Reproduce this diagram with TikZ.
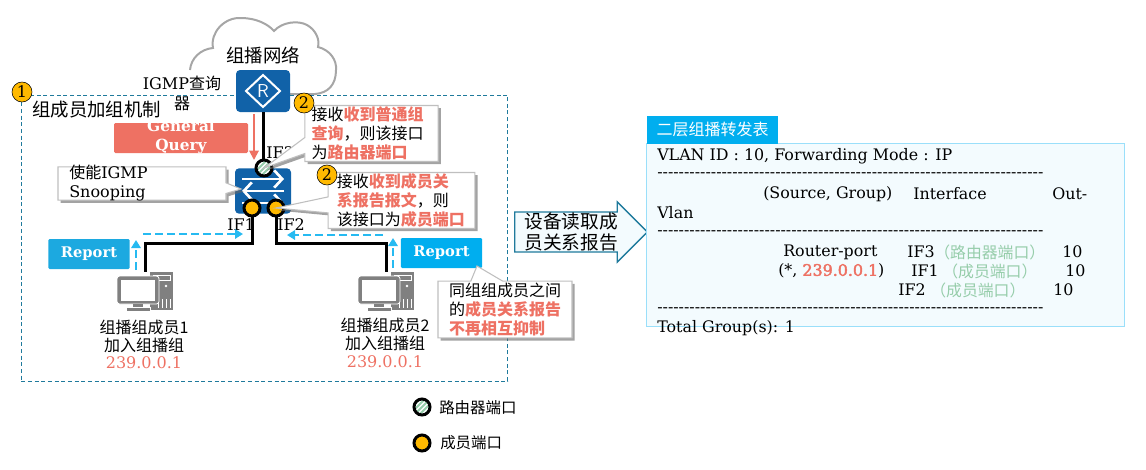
\documentclass[tikz,border=0pt]{standalone}
\usepackage{fontspec}
\setmainfont{DejaVu Serif}
\newfontfamily\cjk{Noto Sans CJK SC}
\newfontfamily\rulefont{DejaVu Serif}
\newfontfamily\fakeb[FakeBold=2.5]{DejaVu Serif}
\usepackage{xcolor}
\usetikzlibrary{arrows.meta,shapes.callouts,shapes.arrows,shadows}
\definecolor{bluehua}{RGB}{17,98,168}
\definecolor{hotred}{RGB}{238,113,99}
\definecolor{goldport}{RGB}{255,185,0}
\definecolor{skyrep}{RGB}{0,174,239}
\definecolor{skyrepb}{RGB}{28,169,224}
\definecolor{framet}{RGB}{31,122,156}
\definecolor{paleg}{RGB}{150,205,170}
\definecolor{panelbg}{RGB}{243,251,254}
\definecolor{panelln}{RGB}{154,223,250}
\newcommand{\zh}[1]{{\cjk #1}}
\newcommand{\hot}[1]{\textcolor{hotred}{\cjk\bfseries #1}}
\newcommand{\pale}[1]{\textcolor{paleg}{\cjk #1}}
\newcommand{\dashrow}{{\rulefont ------------------------------------------------------------------------}}

\begin{document}
\begin{tikzpicture}[x=0.75pt,y=-0.75pt,
  txt/.style={inner sep=0pt,align=center,font=\fontsize{12}{14}\selectfont},
  tbl/.style={inner sep=0pt,anchor=west,font=\fontsize{11.9}{14}\selectfont},
  big/.style={inner sep=0pt,align=left,font=\cjk\fontsize{13.8}{17}\selectfont},
  device/.style={fill=bluehua,rounded corners=3pt,inner sep=0pt},
  routerport/.style={circle,draw=black,line width=2.25pt,minimum size=12pt,inner sep=0pt,fill=white,
                     path picture={\begin{scope}[shift={(path picture bounding box.center)}]
                       \foreach \hx in {-15,-10,-5,0,5,10,15}
                         {\draw[draw=paleg,line width=1.5pt] (\hx-10,10) -- (\hx+10,-10);}
                       \end{scope}}},
  memberport/.style={circle,draw=black,line width=2.25pt,minimum size=12pt,inner sep=0pt,fill=goldport},
  badge/.style={circle,draw=black,fill=goldport,minimum size=15pt,inner sep=0pt,font=\fontsize{12}{14}\selectfont},
  linkline/.style={draw=black,line width=2.25pt},
  reparrow/.style={draw=skyrep!85!white,line width=1.5pt,dash pattern=on 6pt off 3pt,-{Triangle[length=6pt,width=7pt]}},
  repbox/.style={rounded corners=1pt,inner sep=0pt,minimum width=61pt,minimum height=22.5pt,
                 text=white,font=\bfseries\fontsize{11}{14}\selectfont},
  tipbox/.style={rectangle callout,draw=black!25,line width=0.8pt,fill=white,inner sep=0pt,
                 drop shadow={shadow xshift=2pt,shadow yshift=-2pt,fill=black!60,opacity=.6},
                 align=left,font=\cjk\fontsize{12}{14.4}\selectfont},
  pcbox/.style={inner sep=0pt,minimum width=42pt,minimum height=30pt},
  pc/.pic={
    \fill[black!50] (33,0) rectangle (56,38);
    \draw[white,line width=.6pt] (36,3) rectangle (53,8);
    \fill[white] (49,14) circle (1.4);
    \draw[white,line width=.7pt] (41,28) -- (41,36) (45,27) -- (45,36) (49,27) -- (49,36) (53,27) -- (53,36);
    \fill[black!50,draw=white,line width=.6pt,rounded corners=2pt] (0,4) rectangle (42,32);
    \fill[white] (4,8) rectangle (38,29);
    \fill[black!50] (16,32) rectangle (26,36);
    \fill[black!50,draw=white,line width=.5pt] (9,35) rectangle (33,39);
  }
]
\useasboundingbox (0,0) rectangle (1146,469);

% cloud
\draw[black!35,line width=1.5pt] (190,70) .. controls (191,58) and (201,49) .. (213,48)
  .. controls (210,32) and (225,17) .. (241,18)
  .. controls (256,18) and (268,24) .. (274,31)
  .. controls (282,22) and (298,20) .. (307,25)
  .. controls (316,30) and (320,40) .. (318,47)
  .. controls (330,50) and (337,60) .. (336,70)
  .. controls (336,85) and (328,93) .. (315,94) -- (290,94);
\node[big] (net) at (263,55) {组播网络};

% group frame
\node[draw=framet,dash pattern=on 3pt off 2pt,line width=.75pt,minimum width=365pt,minimum height=214.5pt,inner sep=0pt] (group) at (264.5,238) {};
\node[big,anchor=west] (grouptitle) at (32,110) {组成员加组机制};

% router and switch
\node[device,minimum width=40.5pt,minimum height=31.5pt] (router) at (263,91) {};
\draw[white,line width=1.5pt] (246,91) -- (263,75) -- (280,91) -- (263,107) -- cycle;
\node[inner sep=0pt,text=white,font=\sffamily\fontsize{14}{14}\selectfont] (rmark) at (263,91) {R};
\node[device,minimum width=42pt,minimum height=34pt] (switch) at (263,191) {};
\draw[white,line width=2pt,-{Straight Barb[length=6pt,width=13pt]}] (242,179) -- (284,179);
\draw[white,line width=2pt,-{Straight Barb[length=6pt,width=13pt]}] (284,191) -- (242,191);
\draw[white,line width=2pt,-{Straight Barb[length=6pt,width=13pt]}] (242,203) -- (284,203);

\node[txt] (querier) at (182,93) {IGMP\zh{查询}\\[1pt]\zh{器}};
\node[fill=hotred,rounded corners=1pt,minimum width=100.5pt,minimum height=22.5pt,inner sep=0pt] (qbox) at (181,138) {};
\node[txt,text=white,font=\bfseries\fontsize{11.5}{14.3}\selectfont] (qtext) at (181,137) {General\\Query};

% hosts
\node[pcbox] (pc1) at (145,292) {};
\node[pcbox] (pc2) at (386,292) {};
\pic at (117,272) {pc};
\pic at (358,272) {pc};
\node[txt,font=\cjk\fontsize{12}{13.6}\selectfont] (pc1name) at (144,336) {组播组成员1\\加入组播组};
\node[txt,text=hotred] (pc1ip) at (144,363) {239.0.0.1};
\node[txt,font=\cjk\fontsize{12}{13.6}\selectfont] (pc2name) at (385,334) {组播组成员2\\加入组播组};
\node[txt,text=hotred] (pc2ip) at (385,362) {239.0.0.1};

% links and ports
\coordinate (if3c) at (264,168);
\coordinate (if1c) at (252,208);
\coordinate (if2c) at (276,208);
\draw[linkline] (router.south) -- (router.south |- if3c);
\draw[linkline] (if1c) -- ++(0,35) -| (pc1.north);
\draw[linkline] (if2c) -- ++(0,35) -| (pc2.north);
\node[routerport] (if3) at (if3c) {};
\node[memberport] (if1) at (if1c) {};
\node[memberport] (if2) at (if2c) {};
\node[txt,anchor=west] (if3txt) at (266,153) {IF3};
\node[txt,anchor=west] (if1txt) at (227,225) {IF1};
\node[txt,anchor=west] (if2txt) at (277,225) {IF2};

\coordinate (qa) at (254,114);
\coordinate (qb) at (254,160);
\draw[draw=hotred,line width=1.4pt,-{Triangle[length=7pt,width=7pt]}] (qa) -- (qb);

% report flow
\node[repbox,fill=skyrepb] (rep1) at (89,254) {Report};
\node[repbox,fill=skyrep] (rep2) at (441.5,253) {Report};
\coordinate (r1a) at (136,270);
\coordinate (r1b) at (136,240);
\coordinate (r1c) at (143,234);
\coordinate (r1d) at (243,234);
\coordinate (r2a) at (393,268);
\coordinate (r2b) at (393,238);
\coordinate (r2c) at (383,235);
\coordinate (r2d) at (287,235);
\draw[reparrow] (r1a) -- (r1b);
\draw[reparrow] (r1c) -- (r1d);
\draw[reparrow] (r2a) -- (r2b);
\draw[reparrow] (r2c) -- (r2d);

% notes
\node[tipbox,minimum width=126pt,minimum height=25pt,callout absolute pointer={(241,189)},callout pointer width=8pt] (snoop) at (142,183.5) {};
\node[txt,anchor=west,align=left,font=\fontsize{12}{14.6}\selectfont] (snooptxt) at (69,183) {\zh{使能}IGMP\\Snooping};
\node[tipbox,minimum width=100pt,minimum height=42pt,text width=90pt,callout absolute pointer={(if3.center)},callout pointer width=12pt] (noteq) at (371.5,133.5)
  {接收\hot{收到普通组}\\\hot{查询}，则该接口\\为\hot{路由器端口}};
\node[tipbox,minimum width=110pt,minimum height=42pt,text width=97pt,callout absolute pointer={(if2.center)},callout pointer width=12pt] (notem) at (401.5,200.5)
  {接收\hot{收到成员关}\\\hot{系报告报文}，则\\该接口为\hot{成员端口}};
\node[tipbox,minimum width=100.5pt,minimum height=42.5pt,text width=84pt,callout absolute pointer={(477,266)},callout pointer width=24pt] (notes) at (505,309.5)
  {同组组成员之间\\的\hot{成员关系报告}\\\hot{不再相互抑制}};
\node[badge] (one) at (22,92) {1};
\node[badge] (twoa) at (304,103) {2};
\node[badge] (twob) at (327,175) {2};

% arrow between
\node[single arrow,draw=framet,line width=1pt,fill=panelbg,single arrow head extend=7.5pt,single arrow head indent=0pt,
      minimum height=99.5pt,inner sep=2pt,inner ysep=0pt,align=center,
      font=\cjk\fontsize{14}{16}\selectfont] (readarrow) at (571,232) {设备读取成\\员关系报告};

% table
\node[draw=panelln,line width=.9pt,fill=panelbg,minimum width=358pt,minimum height=137pt,inner sep=0pt] (panel) at (885.5,235) {};
\node[fill=skyrep,minimum width=98pt,minimum height=21pt,inner sep=0pt,text=white,font=\cjk\fontsize{12}{14}\selectfont] (ptitle) at (712.5,129.5) {二层组播转发表};
\node[tbl] (l1) at (657,156) {VLAN ID : 10, Forwarding Mode : IP};
\node[tbl] (d1) at (657,175) {\dashrow};
\node[tbl] (h1) at (763,194) {(Source, Group)};
\node[tbl] (h2) at (913,194) {Interface};
\node[tbl] (h3) at (1052,194) {Out-};
\node[tbl] (h4) at (657,213) {Vlan};
\node[tbl] (d2) at (657,233) {\dashrow};
\node[tbl] (a1) at (783,252) {Router-port};
\node[tbl] (a2) at (907,252) {IF3};
\node[tbl] (a3) at (934,252) {\pale{（路由器端口）}};
\node[tbl] (a4) at (1062,252) {10};
\node[tbl] (b1) at (778,271) {(*, \textcolor{hotred}{\fakeb 239.0.0.1})};
\node[tbl] (b2) at (911,271) {IF1};
\node[tbl] (b3) at (942,271) {\pale{（成员端口）}};
\node[tbl] (b4) at (1065,271) {10};
\node[tbl] (c2) at (898,290) {IF2};
\node[tbl] (c3) at (930,290) {\pale{（成员端口）}};
\node[tbl] (c4) at (1053,290) {10};
\node[tbl] (d3) at (657,310) {\dashrow};
\node[tbl] (l9) at (657,328) {Total Group(s): 1};

% legend
\node[routerport] (legr) at (422,407) {};
\node[memberport] (legm) at (422,443) {};
\node[txt,anchor=west,font=\cjk\fontsize{11.6}{14}\selectfont] (legrtxt) at (439,408) {路由器端口};
\node[txt,anchor=west,font=\cjk\fontsize{11.6}{14}\selectfont] (legmtxt) at (440,443) {成员端口};
\end{tikzpicture}
\end{document}
